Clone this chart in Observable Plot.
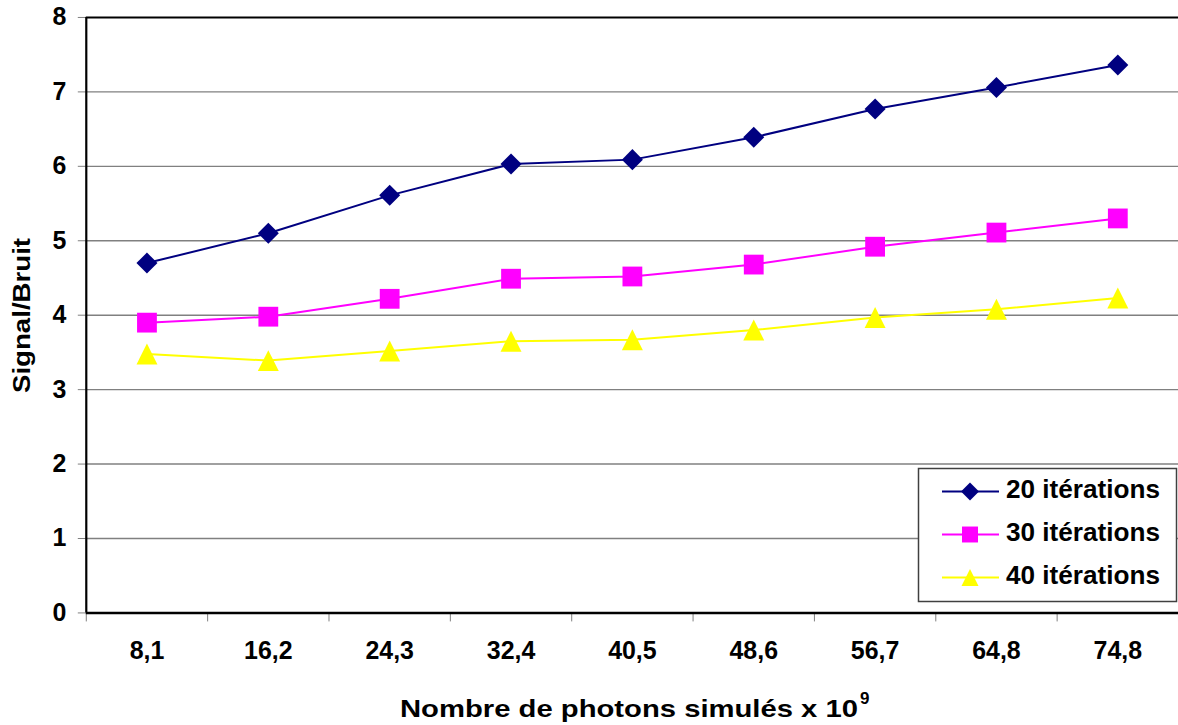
<!DOCTYPE html>
<html>
<head>
<meta charset="utf-8">
<script src="https://cdn.jsdelivr.net/npm/d3@7"></script>
<script src="https://cdn.jsdelivr.net/npm/@observablehq/plot@0.6"></script>
<style>
  body { margin: 0; background: #fff; }
  #wrap { position: relative; width: 1178px; height: 725px; overflow: hidden; background: #fff;
          font-family: "Liberation Sans", Arial, sans-serif; }
  #wrap > svg { position: absolute; left: 0; top: 0; }
  #overlay { position: absolute; left: 0; top: 0; pointer-events: none; }
</style>
</head>
<body>
<div id="wrap"></div>
<script>
// ---- data ----
const categories = ["8,1", "16,2", "24,3", "32,4", "40,5", "48,6", "56,7", "64,8", "74,8"];
const iter20 = [4.70, 5.10, 5.61, 6.03, 6.09, 6.39, 6.77, 7.06, 7.36];
const iter30 = [3.90, 3.98, 4.22, 4.49, 4.52, 4.68, 4.92, 5.11, 5.30];
const iter40 = [3.48, 3.39, 3.52, 3.65, 3.67, 3.80, 3.97, 4.08, 4.23];
const seriesNames = ["20 itérations", "30 itérations", "40 itérations"];
const seriesColors = ["#000080", "#FF00FF", "#FFFF00"];
const yTicks = [0, 1, 2, 3, 4, 5, 6, 7, 8];
const yTitle = "Signal/Bruit";
const xTitle = "Nombre de photons simulés x 10";
const xTitleExp = "9";

// Excel-like triangle marker centred on its bounding box
const triangleMarker = {
  draw(ctx, size) {
    const r = Math.sqrt(size / Math.PI) * 1.25;
    ctx.moveTo(0, -r); ctx.lineTo(r, r); ctx.lineTo(-r, r); ctx.closePath();
  }
};
const seriesSymbols = [d3.symbolDiamond2, d3.symbolSquare, triangleMarker];

const allSeries = [iter20, iter30, iter40];
const rows = allSeries.flatMap((vals, s) =>
  vals.map((v, i) => ({i, cat: categories[i], value: v, series: seriesNames[s]})));

const font = '"Liberation Sans", Arial, sans-serif';
const dotR = [9.5, 11.2, 8.4];

const chart = Plot.plot({
  width: 1181,
  height: 725,
  marginLeft: 86,
  marginRight: 0,
  marginTop: 17,
  marginBottom: 111,
  style: {fontFamily: font, background: "transparent", overflow: "visible"},
  x: {type: "linear", domain: [-0.5, categories.length - 0.5], axis: null},
  y: {domain: [yTicks[0], yTicks[yTicks.length - 1]], axis: null},
  color: {domain: seriesNames, range: seriesColors},
  marks: [
    Plot.gridY(yTicks.filter(v => v > 0 && v < 8), {stroke: "#808080", strokeOpacity: 1, strokeWidth: 1.4}),
    Plot.ruleY([yTicks[yTicks.length - 1]], {stroke: "#000", strokeWidth: 2}),
    Plot.axisY(yTicks, {tickSize: 8, tickPadding: 12, fontSize: 25, fontWeight: "bold",
      tickFormat: d3.format("d"), stroke: "#808080", fill: "#000", label: null}),
    Plot.axisX(d3.range(categories.length), {tickFormat: i => categories[i], tickSize: 0, tickPadding: 28,
      fontSize: 25, fontWeight: "bold", fill: "#000", label: null}),
    Plot.axisX(d3.range(categories.length + 1).map(i => i - 0.5), {tickFormat: () => "", tickSize: 9,
      stroke: "#808080", label: null}),
    Plot.ruleY([0], {stroke: "#000", strokeWidth: 2.5}),
    Plot.ruleX([-0.5], {stroke: "#000", strokeWidth: 2.2}),
    ...seriesNames.flatMap((name, s) => {
      const data = rows.filter(d => d.series === name);
      return [
        Plot.line(data, {x: "i", y: "value", stroke: "series", strokeWidth: 2}),
        Plot.dot(data, {x: "i", y: "value", fill: "series", stroke: "none", symbol: seriesSymbols[s], r: dotR[s]})
      ];
    })
  ]
});

const wrap = document.getElementById("wrap");
wrap.appendChild(chart);

// ---- overlay: titles + legend ----
const ov = d3.select(wrap).append("svg").attr("id", "overlay")
  .attr("width", 1178).attr("height", 725).style("font-family", font);

ov.append("text")
  .attr("transform", "translate(30,315.5) rotate(-90)")
  .attr("text-anchor", "middle")
  .attr("font-size", 24).attr("font-weight", "bold")
  .attr("textLength", 155).attr("lengthAdjust", "spacingAndGlyphs")
  .text(yTitle);

ov.append("text")
  .attr("x", 400).attr("y", 717)
  .attr("font-size", 24).attr("font-weight", "bold")
  .attr("textLength", 458).attr("lengthAdjust", "spacingAndGlyphs")
  .text(xTitle);
ov.append("text")
  .attr("x", 860).attr("y", 704)
  .attr("font-size", 17).attr("font-weight", "bold")
  .text(xTitleExp);

// legend
const lg = ov.append("g");
lg.append("rect").attr("x", 918.5).attr("y", 468.5).attr("width", 258).attr("height", 133)
  .attr("fill", "#fff").attr("stroke", "#404040").attr("stroke-width", 1.5);
const legR = [8.1, 9.0, 6.8];
seriesNames.forEach((name, s) => {
  const cy = 491.5 + s * 43;
  lg.append("line").attr("x1", 942).attr("x2", 999).attr("y1", cy).attr("y2", cy)
    .attr("stroke", seriesColors[s]).attr("stroke-width", 2);
  lg.append("path")
    .attr("d", d3.symbol(seriesSymbols[s], legR[s] * legR[s] * Math.PI)())
    .attr("transform", `translate(970,${cy})`)
    .attr("fill", seriesColors[s]);
  lg.append("text").attr("x", 1006).attr("y", cy + 6.5)
    .attr("font-size", 25).attr("font-weight", "bold")
    .attr("textLength", 154).attr("lengthAdjust", "spacingAndGlyphs")
    .text(name);
});
</script>
</body>
</html>
